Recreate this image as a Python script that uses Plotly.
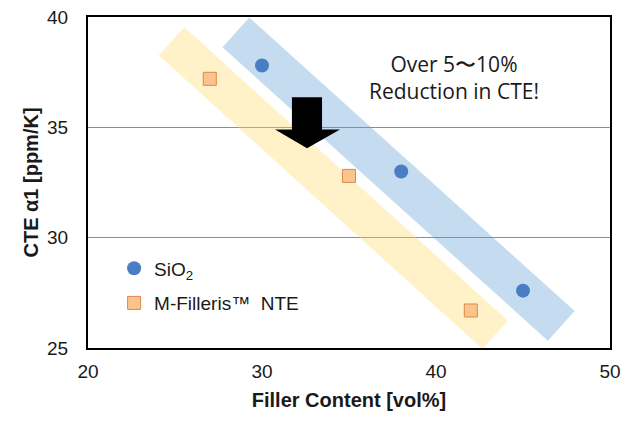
import plotly.graph_objects as go

# measured points
sio2_x = [30, 38, 45]
sio2_y = [37.8, 33.0, 27.6]
nte_x = [27, 35, 42]
nte_y = [37.2, 32.8, 26.7]

# highlight bands (start/end of each band centre line)
band_blue_x = [28.5, 47.2]
band_blue_y = [39.3, 26.0]
band_yellow_x = [24.8, 43.4]
band_yellow_y = [38.9, 25.6]

x_ticks = [20, 30, 40, 50]
y_ticks = [25, 30, 35, 40]

fig = go.Figure()

fig.add_trace(go.Scatter(x=band_yellow_x, y=band_yellow_y, mode="lines",
                         line=dict(color="rgba(255,217,102,0.36)", width=38),
                         hoverinfo="skip", showlegend=False))
fig.add_trace(go.Scatter(x=band_blue_x, y=band_blue_y, mode="lines",
                         line=dict(color="rgba(91,155,213,0.36)", width=40),
                         hoverinfo="skip", showlegend=False))

fig.add_trace(go.Scatter(x=sio2_x, y=sio2_y, mode="markers", name="SiO<sub>2</sub>",
                         legendgroup="a",
                         marker=dict(symbol="circle", size=14, color="#4A7EC4",
                                     line=dict(width=0))))
fig.add_trace(go.Scatter(x=nte_x, y=nte_y, mode="markers", name="M-Filleris™  NTE",
                         legendgroup="b",
                         marker=dict(symbol="square", size=13, color="#F9C58C",
                                     line=dict(width=1, color="#E0874C"))))

# block arrow
fig.add_shape(type="path", layer="above",
              path="M 31.72 36.36 L 33.45 36.36 L 33.45 34.9 L 34.48 34.9 "
                   "L 32.59 34.05 L 30.75 34.9 L 31.72 34.9 Z",
              fillcolor="black", line=dict(width=0))

fig.add_annotation(x=41.03, y=37.25, text="Over 5〜10%<br>Reduction in CTE!",
                   showarrow=False, font=dict(family="Open Sans", size=21, color="#1a1a1a"))

fig.update_layout(
    width=637, height=428,
    margin=dict(l=88, r=27, t=17, b=80),
    plot_bgcolor="white", paper_bgcolor="white",
    font=dict(family="Liberation Sans, Arial", size=19, color="#1a1a1a"),
    legend=dict(x=0.05, y=0.298, xanchor="left", yanchor="top",
                bgcolor="rgba(0,0,0,0)", font=dict(size=19),
                traceorder="grouped", tracegroupgap=7),
)
fig.update_xaxes(range=[20, 50], tickvals=x_ticks, showgrid=False, zeroline=False,
                 showline=True, linecolor="black", linewidth=2, mirror=True,
                 ticklabelstandoff=5, automargin=False,
                 title=dict(text="<b>Filler Content [vol%]</b>", font=dict(size=20), standoff=12))
fig.update_yaxes(range=[25, 40], tickvals=y_ticks, showgrid=True, gridcolor="#8c8c8c",
                 gridwidth=1, zeroline=False,
                 showline=True, linecolor="black", linewidth=2, mirror=True,
                 ticklabelstandoff=14, automargin=False,
                 title=dict(text="<b>CTE α1 [ppm/K]</b>", font=dict(size=20), standoff=3))

fig.write_html("out.html", config={"displayModeBar": False},
               post_script="document.body.style.margin='0';")
